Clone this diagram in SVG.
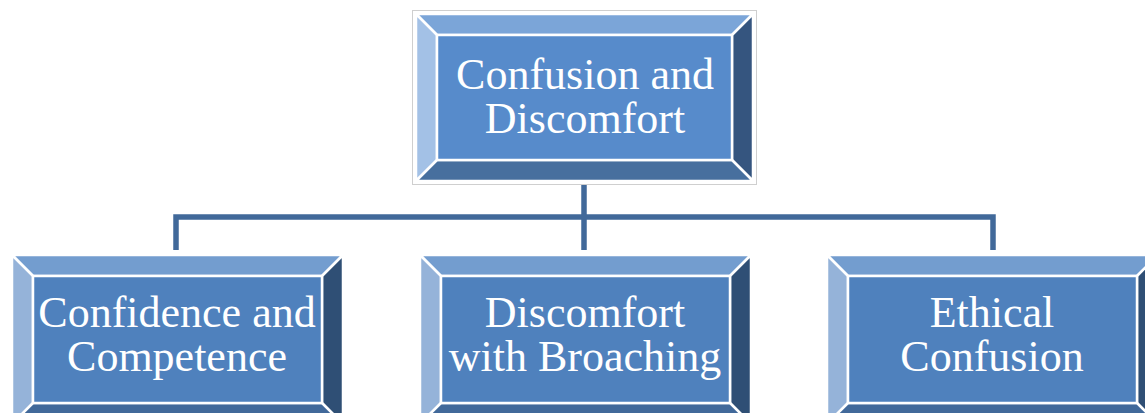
<svg xmlns="http://www.w3.org/2000/svg" width="1145" height="413" viewBox="0 0 1145 413">
<style>
.f{stroke:#fff;stroke-width:2.5;stroke-linejoin:miter}
.t{font-family:"Liberation Serif","Times New Roman",serif;font-size:44px;fill:#fff;text-anchor:middle}
.c{stroke:#41699A;stroke-width:5.5;fill:none;stroke-linecap:butt}
</style>
<rect width="1145" height="413" fill="#fff"/>
<g id="connectors">
<path class="c" d="M584 184V218M176 250V217H993V250M584 218V250"/>
</g>
<g id="n0">
<rect x="412.5" y="10.5" width="344" height="174" fill="#fff" stroke="#cfcfcf" stroke-width="1"/>
<polygon class="f" fill="#7BA5D8" points="416,14 753,14 732,35 437,35"/>
<polygon class="f" fill="#A3C1E6" points="416,14 437,35 437,160 416,181"/>
<polygon class="f" fill="#35557F" points="753,14 753,181 732,160 732,35"/>
<polygon class="f" fill="#476F9E" points="416,181 437,160 732,160 753,181"/>
<rect class="f" x="437" y="35" width="295" height="125" fill="#578BCB"/>
<text class="t"><tspan x="585" y="89">Confusion and</tspan><tspan x="585" y="133">Discomfort</tspan></text>
</g>
<g id="n1">
<polygon class="f" fill="#739DCF" points="12,255 343,255 322,276 33,276"/>
<polygon class="f" fill="#95B3D9" points="12,255 33,276 33,403 12,424"/>
<polygon class="f" fill="#2F4F75" points="343,255 343,424 322,403 322,276"/>
<polygon class="f" fill="#41699A" points="12,424 33,403 322,403 343,424"/>
<rect class="f" x="33" y="276" width="289" height="127" fill="#4F81BD"/>
<text class="t"><tspan x="177" y="327">Confidence and</tspan><tspan x="177" y="371">Competence</tspan></text>
</g>
<g id="n2">
<polygon class="f" fill="#739DCF" points="420,255 751,255 730,276 441,276"/>
<polygon class="f" fill="#95B3D9" points="420,255 441,276 441,403 420,424"/>
<polygon class="f" fill="#2F4F75" points="751,255 751,424 730,403 730,276"/>
<polygon class="f" fill="#41699A" points="420,424 441,403 730,403 751,424"/>
<rect class="f" x="441" y="276" width="289" height="127" fill="#4F81BD"/>
<text class="t"><tspan x="585" y="327">Discomfort</tspan><tspan x="585" y="371">with Broaching</tspan></text>
</g>
<g id="n3">
<polygon class="f" fill="#739DCF" points="827,255 1158,255 1137,276 848,276"/>
<polygon class="f" fill="#95B3D9" points="827,255 848,276 848,403 827,424"/>
<polygon class="f" fill="#2F4F75" points="1158,255 1158,424 1137,403 1137,276"/>
<polygon class="f" fill="#41699A" points="827,424 848,403 1137,403 1158,424"/>
<rect class="f" x="848" y="276" width="289" height="127" fill="#4F81BD"/>
<text class="t"><tspan x="992" y="327">Ethical</tspan><tspan x="992" y="371">Confusion</tspan></text>
</g>
</svg>
